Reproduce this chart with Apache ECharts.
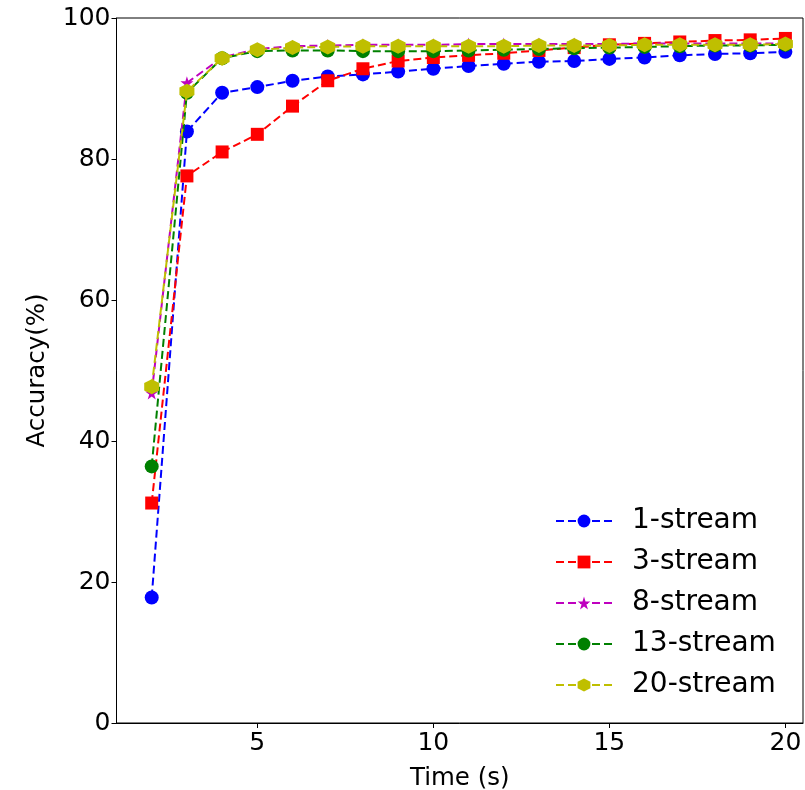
<!DOCTYPE html>
<html><head><meta charset="utf-8">
<script src="https://cdn.jsdelivr.net/npm/echarts@6/dist/echarts.min.js"></script>
<style>html,body{margin:0;padding:0;background:#fff}#c{width:805px;height:790px}</style>
</head><body><div id="c"></div>
<script>
const times = [2,3,4,5,6,7,8,9,10,11,12,13,14,15,16,17,18,19,20];
const seriesNames = ['1-stream','3-stream','8-stream','13-stream','20-stream'];
const stream1 = [17.8, 83.9, 89.4, 90.2, 91.1, 91.7, 92.0, 92.4, 92.8, 93.2, 93.5, 93.8, 93.9, 94.2, 94.4, 94.7, 94.9, 95.0, 95.2];
const stream3 = [31.2, 77.6, 81.0, 83.5, 87.5, 91.1, 92.8, 93.9, 94.4, 94.7, 95.0, 95.4, 95.8, 96.2, 96.4, 96.6, 96.8, 96.9, 97.1];
const stream8 = [46.8, 90.8, 94.4, 95.6, 96.0, 96.1, 96.2, 96.2, 96.2, 96.3, 96.3, 96.3, 96.3, 96.3, 96.4, 96.4, 96.4, 96.4, 96.4];
const stream13 = [36.4, 89.4, 94.3, 95.3, 95.4, 95.4, 95.3, 95.3, 95.3, 95.4, 95.5, 95.6, 95.7, 95.8, 95.9, 96.0, 96.1, 96.1, 96.2];
const stream20 = [47.7, 89.6, 94.3, 95.5, 95.8, 95.9, 96.0, 96.0, 96.0, 96.0, 96.0, 96.1, 96.1, 96.1, 96.2, 96.2, 96.2, 96.2, 96.3];
const xTicks = [5,10,15,20];

const colors = ['#0000ff','#ff0000','#bf00bf','#008000','#bfbf00'];
const star = 'path://M0,-1 L0.2245,-0.309 L0.951,-0.309 L0.363,0.118 L0.588,0.809 L0,0.382 L-0.588,0.809 L-0.363,0.118 L-0.951,-0.309 L-0.2245,-0.309 Z';
const hex = 'path://M0,-1 L0.866,-0.5 L0.866,0.5 L0,1 L-0.866,0.5 L-0.866,-0.5 Z';
const symbols = ['circle','rect',star,'circle',hex];
const sizes = [14,13,13,14,15];
const allData = [stream1,stream3,stream8,stream13,stream20];

const font = 'DejaVu Sans';
const chart = echarts.init(document.getElementById('c'));
chart.setOption({
  animation:false,
  grid:{left:116.5,right:2,top:18,bottom:67,containLabel:false,outerBoundsMode:'none',
    show:true,borderColor:'#000',borderWidth:1,backgroundColor:'transparent'},
  xAxis:{type:'value',min:1,max:20.5,
    name:'Time (s)',nameLocation:'middle',nameGap:43,
    nameTextStyle:{fontFamily:font,fontSize:24.5,color:'#000'},
    axisLine:{lineStyle:{color:'#000',width:1}},
    axisTick:{show:true,length:5,customValues:xTicks,lineStyle:{color:'#000'}},
    axisLabel:{customValues:xTicks,fontFamily:font,fontSize:25,color:'#000',margin:8},
    splitLine:{show:false}},
  yAxis:{type:'value',min:0,max:100,interval:20,
    name:'Accuracy(%)',nameLocation:'middle',nameGap:66,
    nameTextStyle:{fontFamily:font,fontSize:24.5,color:'#000'},
    axisLine:{show:true,lineStyle:{color:'#000',width:1}},
    axisTick:{show:true,length:5,lineStyle:{color:'#000'}},
    axisLabel:{fontFamily:font,fontSize:25,color:'#000',margin:6},
    splitLine:{show:false}},
  legend:{orient:'vertical',left:550,top:501,itemWidth:56,itemHeight:16,itemGap:11,
    textStyle:{fontFamily:font,fontSize:28,lineHeight:30,color:'#000',padding:[0,0,0,15]},
    data:seriesNames},
  series: seriesNames.map((n,i)=>({
    name:n,type:'line',
    data:times.map((t,j)=>[t,allData[i][j]]),
    symbol:symbols[i],symbolSize:sizes[i],showSymbol:true,
    itemStyle:{color:colors[i]},
    lineStyle:{color:colors[i],width:2,type:[8,4]},
    z:2+i
  }))
});
</script></body></html>
